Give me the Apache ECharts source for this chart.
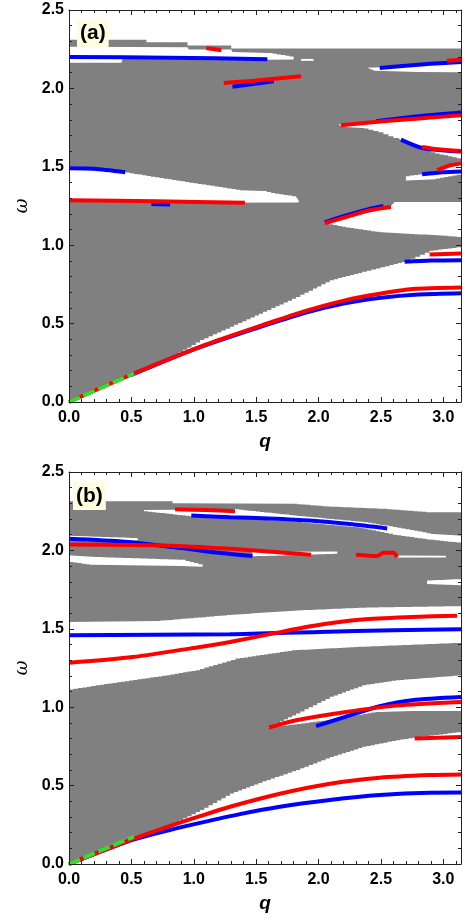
<!DOCTYPE html>
<html>
<head>
<meta charset="utf-8">
<script src="https://cdn.jsdelivr.net/npm/echarts@6/dist/echarts.min.js"></script>
<style>
  html, body { margin: 0; padding: 0; background: #fff; }
  #chart { width: 466px; height: 923px; }
</style>
</head>
<body>
<div id="chart"></div>
<script>
// Axis ticks
const xTicks = [0, 0.5, 1.0, 1.5, 2.0, 2.5, 3.0];
const xMinorTicks = [0.1, 0.2, 0.3, 0.4, 0.6, 0.7, 0.8, 0.9, 1.1, 1.2, 1.3, 1.4, 1.6, 1.7, 1.8, 1.9,
  2.1, 2.2, 2.3, 2.4, 2.6, 2.7, 2.8, 2.9, 3.1];
const Q_MAX = 3.1416;

// ---------- panel (a): continuum (gray) and gaps (white) ----------
const aGrayLow = [[0, 0], [0.5, 0.185], [0.78, 0.27], [1.05, 0.395], [1.29, 0.48], [1.555, 0.575], [1.82, 0.67],
  [2.09, 0.777], [2.35, 0.83], [2.57, 0.873], [2.7, 0.9], [2.89, 0.965], [Q_MAX, 0.99]];
const aGrayTop = [[0, 2.31], [0.62, 2.31], [0.62, 2.295], [0.95, 2.295], [0.95, 2.274], [1.3, 2.274],
  [1.3, 2.255], [Q_MAX, 2.255]];

const aGapTop = [[0, 2.265], [0.95, 2.262], [0.96, 2.248], [1.3, 2.248], [1.31, 2.232], [1.6, 2.225], [1.8, 2.2],
  [1.8, 2.184], [1.6, 2.183], [0.43, 2.188], [0.42, 2.163], [0, 2.163]];
const aGapDot = [[1.86, 2.188], [1.96, 2.188], [1.96, 2.176], [1.86, 2.176]];
const aGapTopRight = [[2.39, 2.132], [2.5, 2.135], [2.8, 2.15], [Q_MAX, 2.165], [Q_MAX, 2.103], [2.8, 2.104], [2.45, 2.112]];
const aGapMidLeft = [[0, 1.49], [0.45, 1.463], [0.93, 1.403], [1.37, 1.35], [1.55, 1.346], [1.62, 1.333],
  [1.82, 1.308], [1.84, 1.287], [1.84, 1.272], [1.0, 1.27], [0, 1.283]];
const aGapMidRight = [[2.155, 1.77], [2.46, 1.795], [2.8, 1.828], [Q_MAX, 1.855], [Q_MAX, 1.555], [2.97, 1.585],
  [2.83, 1.615], [2.66, 1.668], [2.64, 1.683], [2.52, 1.72], [2.4, 1.745], [2.2, 1.755]];
const aGapSliver = [[2.70, 1.44], [2.83, 1.455], [2.95, 1.478], [Q_MAX, 1.528], [Q_MAX, 1.45], [2.94, 1.42], [2.70, 1.413]];
const aGapLowRight = [[2.05, 1.145], [2.22, 1.185], [2.41, 1.228], [2.58, 1.25], [2.61, 1.275], [Q_MAX, 1.275],
  [Q_MAX, 1.053], [2.97, 1.064], [2.7, 1.074], [2.49, 1.085], [2.22, 1.117]];

// ---------- panel (a): modes ----------
const aRedAcoustic = [[0, 0], [0.515, 0.18], [1.05, 0.352], [1.29, 0.42], [1.55, 0.49], [1.87, 0.575], [2.22, 0.65],
  [2.49, 0.69], [2.75, 0.72], [Q_MAX, 0.73]];
const aBlueAcoustic = [[0.5, 0.172], [1.0, 0.335], [1.5, 0.47], [1.9, 0.57], [2.2, 0.628], [2.5, 0.665], [2.8, 0.686], [Q_MAX, 0.694]];
const aGreen = [[0, 0], [0.52, 0.182]];
const aBlueTop = [[0, 2.2], [0.8, 2.196], [1.59, 2.186]];
const aRedTopShort = [[1.1, 2.258], [1.22, 2.243]];
const aRed204 = [[1.24, 2.035], [1.5, 2.05], [1.86, 2.078]];
const aBlue201 = [[1.31, 2.01], [1.64, 2.045]];
const aBlueTopRight = [[2.49, 2.13], [2.7, 2.145], [2.9, 2.157], [Q_MAX, 2.168]];
const aRedTopRight = [[3.03, 2.176], [Q_MAX, 2.182]];
const aBlue149 = [[0, 1.49], [0.2, 1.487], [0.45, 1.465]];
const aRed128 = [[0, 1.287], [0.7, 1.28], [1.41, 1.27]];
const aBlue126 = [[0.66, 1.262], [0.81, 1.26]];
const aBlue184 = [[2.46, 1.79], [2.8, 1.822], [Q_MAX, 1.846]];
const aRed182 = [[2.18, 1.765], [2.45, 1.785], [2.78, 1.807], [Q_MAX, 1.828]];
const aBlue166 = [[2.66, 1.673], [2.83, 1.62], [Q_MAX, 1.597]];
const aRed162 = [[2.83, 1.626], [2.95, 1.612], [Q_MAX, 1.6]];
const aRed150 = [[2.95, 1.478], [3.05, 1.508], [Q_MAX, 1.522]];
const aBlue146 = [[2.83, 1.452], [3.0, 1.465], [Q_MAX, 1.47]];
const aBlue120 = [[2.05, 1.145], [2.2, 1.185], [2.4, 1.23], [2.52, 1.25]];
const aRed120 = [[2.05, 1.14], [2.22, 1.18], [2.41, 1.223], [2.58, 1.244]];
const aBlue090 = [[2.69, 0.894], [2.9, 0.902], [Q_MAX, 0.904]];
const aRed094 = [[2.89, 0.94], [Q_MAX, 0.947]];

// ---------- panel (b): continuum (gray) and gaps (white) ----------
const bGrayUpLow = [[0, 1.543], [0.7, 1.55], [1.3, 1.59], [1.82, 1.617], [2.35, 1.635], [Q_MAX, 1.645]];
const bGrayUpTop = [[0, 2.314], [0.83, 2.314], [0.83, 2.3], [1.83, 2.297], [2.1, 2.28], [2.55, 2.265],
  [2.9, 2.244], [Q_MAX, 2.244]];
const bGrayLowLow = [[0, 0], [0.515, 0.165], [0.78, 0.24], [1.05, 0.344], [1.29, 0.45], [1.55, 0.527], [1.82, 0.6],
  [2.09, 0.683], [2.35, 0.747], [2.62, 0.79], [2.89, 0.82], [Q_MAX, 0.843]];
const bGrayLowTop = [[0, 1.108], [0.25, 1.14], [0.515, 1.17], [0.78, 1.2], [1.05, 1.236], [1.37, 1.31],
  [1.82, 1.363], [2.35, 1.385], [2.67, 1.395], [Q_MAX, 1.41]];

const bGapS1 = [[0.6, 2.258], [1.33, 2.262], [1.83, 2.22], [2.36, 2.18], [2.63, 2.145], [2.9, 2.105], [Q_MAX, 2.093],
  [Q_MAX, 2.05], [2.9, 2.07], [2.63, 2.1], [2.36, 2.145], [1.83, 2.183], [1.3, 2.208], [1.0, 2.218], [0.6, 2.252]];
const bGapBlueTop = [[0, 2.093], [0.55, 2.078], [0.55, 2.064], [0, 2.08]];
const bGapS2 = [[0, 1.968], [0.2, 1.958], [0.9, 1.94], [1.07, 1.905], [1.07, 1.895], [0.9, 1.9], [0.2, 1.908], [0, 1.93]];
const bGapS3 = [[1.47, 1.99], [2.15, 1.993], [2.15, 1.978], [1.47, 1.962]];
const bGapS3b = [[2.62, 1.968], [3.02, 1.966], [3.02, 1.954], [2.62, 1.955]];
const bGapS4 = [[2.87, 1.808], [Q_MAX, 1.818], [Q_MAX, 1.778], [2.87, 1.786]];
const bGapWedge = [[1.595, 0.874], [1.82, 0.96], [2.09, 1.066], [2.35, 1.14], [2.62, 1.172], [Q_MAX, 1.204],
  [Q_MAX, 0.976], [2.75, 0.976], [2.49, 0.97], [2.09, 0.917], [1.595, 0.866]];

// ---------- panel (b): modes ----------
const bRedAcoustic = [[0, 0], [0.515, 0.16], [0.8, 0.24], [1.05, 0.305], [1.29, 0.365], [1.69, 0.448], [2.09, 0.512],
  [2.49, 0.55], [2.89, 0.567], [Q_MAX, 0.571]];
const bBlueAcoustic = [[0, 0], [0.515, 0.155], [0.8, 0.215], [1.05, 0.262], [1.37, 0.318], [1.69, 0.365], [2.09, 0.408],
  [2.49, 0.44], [2.89, 0.455], [Q_MAX, 0.456]];
const bGreen = [[0, 0], [0.52, 0.175]];
const bRedTop = [[0.85, 2.262], [1.1, 2.257], [1.33, 2.25]];
const bBlueTop = [[0.98, 2.222], [1.29, 2.212], [1.6, 2.203], [1.93, 2.19], [2.25, 2.168], [2.55, 2.14]];
const bBlue2 = [[0, 2.074], [0.45, 2.055], [0.9, 2.015], [1.2, 1.985], [1.47, 1.964]];
const bRed2 = [[0, 2.038], [0.77, 2.032], [1.3, 2.01], [1.94, 1.973]];
const bRed3 = [[2.3, 1.973], [2.47, 1.965], [2.52, 1.985], [2.6, 1.985], [2.63, 1.957]];
const bBlueFlat = [[0, 1.459], [1.29, 1.465], [2.0, 1.48], [2.6, 1.49], [Q_MAX, 1.497]];
const bRedRise = [[0, 1.283], [0.51, 1.32], [1.05, 1.384], [1.29, 1.416], [1.63, 1.469], [1.95, 1.518],
  [2.35, 1.559], [2.75, 1.575], [3.11, 1.584]];
const bRedWedge = [[1.6, 0.87], [1.82, 0.917], [2.22, 0.97], [2.62, 1.01], [Q_MAX, 1.033]];
const bBlueWedge = [[1.98, 0.879], [2.22, 0.94], [2.49, 1.006], [2.75, 1.045], [Q_MAX, 1.065]];
const bRed080 = [[2.77, 0.80], [Q_MAX, 0.81]];

// ---------- styling ----------
const FONT = 'Liberation Sans, Arial, sans-serif';
const GRAY = '#808080';
const RED = '#ff0000';
const BLUE = '#0000ff';
const GREEN = '#2fe02f';
const FRAME = '#222';
const STAIR = 4; // px, mimics the rasterised edges of the continuum

function band(low, top) {
  return low.concat(top.slice().reverse());
}

// turn sloped polygon edges into small pixel steps
function stairs(pts) {
  const out = [];
  for (let i = 0; i < pts.length; i++) {
    const a = pts[i], b = pts[(i + 1) % pts.length];
    out.push(a);
    const dx = b[0] - a[0], dy = b[1] - a[1];
    const n = Math.floor(Math.abs(dx) / STAIR);
    if (n < 2 || Math.abs(dy) < 1.5) continue;
    for (let k = 1; k < n; k++) {
      const x = a[0] + dx * k / n;
      out.push([x, a[1] + dy * (k - 1) / n], [x, a[1] + dy * k / n]);
    }
    out.push([b[0], a[1] + dy * (n - 1) / n]);
  }
  return out;
}

function areaSeries(gi, shapes, color, z) {
  return {
    type: 'custom',
    xAxisIndex: gi * 4,
    yAxisIndex: gi * 2,
    z: z,
    silent: true,
    clip: true,
    animation: false,
    data: shapes.map((s, i) => [s[0][0], s[0][1], i]),
    renderItem: function (params, api) {
      const pts = stairs(shapes[params.dataIndex].map(p => api.coord(p)));
      return { type: 'polygon', shape: { points: pts }, style: { fill: color } };
    }
  };
}

function curve(gi, pts, color, z, dash) {
  return {
    type: 'line',
    xAxisIndex: gi * 4,
    yAxisIndex: gi * 2,
    data: pts,
    showSymbol: false,
    symbol: 'none',
    smooth: 0.25,
    silent: true,
    animation: false,
    z: z,
    lineStyle: { color: color, width: 4, type: dash || 'solid' }
  };
}

function xAxes(gi) {
  const base = { type: 'value', gridIndex: gi, min: 0, max: Q_MAX, z: 10, splitLine: { show: false } };
  const major = {
    axisTick: { inside: true, length: 5, customValues: xTicks, lineStyle: { color: FRAME } },
    axisLine: { show: true, onZero: false, lineStyle: { color: FRAME, width: 1 } }
  };
  const minor = {
    axisTick: { inside: true, length: 3, customValues: xMinorTicks, lineStyle: { color: FRAME } },
    axisLine: { show: false, onZero: false },
    axisLabel: { show: false }
  };
  return [
    Object.assign({}, base, major, {
      position: 'bottom',
      axisLabel: {
        customValues: xTicks, formatter: v => v.toFixed(1), margin: 8,
        fontSize: 16, fontWeight: 'bold', color: '#000', fontFamily: FONT
      },
      name: 'q', nameLocation: 'middle', nameGap: 30,
      nameTextStyle: { fontSize: 19, fontWeight: 'bold', fontStyle: 'italic', color: '#000', fontFamily: FONT }
    }),
    Object.assign({}, base, minor, { position: 'bottom' }),
    Object.assign({}, base, major, { position: 'top', axisLabel: { show: false } }),
    Object.assign({}, base, minor, { position: 'top' })
  ];
}

function yAxes(gi) {
  const base = {
    type: 'value', gridIndex: gi, min: 0, max: 2.5, interval: 0.5, z: 10,
    splitLine: { show: false },
    axisLine: { show: true, onZero: false, lineStyle: { color: FRAME, width: 1 } },
    axisTick: { inside: true, length: 5, lineStyle: { color: FRAME } },
    minorTick: { show: true, splitNumber: 5, length: 3, lineStyle: { color: FRAME } }
  };
  return [
    Object.assign({}, base, {
      position: 'left',
      axisLabel: {
        formatter: v => v.toFixed(1), margin: 5,
        fontSize: 16, fontWeight: 'bold', color: '#000', fontFamily: FONT
      },
      name: 'ω', nameLocation: 'middle', nameGap: 37, nameRotate: 90,
      nameTextStyle: { fontSize: 18, fontStyle: 'italic', color: '#000', fontFamily: 'DejaVu Serif, serif' }
    }),
    Object.assign({}, base, { position: 'right', axisLabel: { show: false } })
  ];
}

function panelSeries(gi, grays, gaps, blues, reds, green) {
  const out = [areaSeries(gi, grays, GRAY, 1), areaSeries(gi, gaps, '#ffffff', 2)];
  blues.forEach(c => out.push(curve(gi, c, BLUE, 3)));
  reds.forEach(c => out.push(curve(gi, c, RED, 4)));
  out.push(curve(gi, green, GREEN, 5, [12, 4]));
  return out;
}

const series = [].concat(
  panelSeries(0,
    [band(aGrayLow, aGrayTop)],
    [aGapTop, aGapDot, aGapTopRight, aGapMidLeft, aGapMidRight, aGapSliver, aGapLowRight],
    [aBlueAcoustic, aBlueTop, aBlue201, aBlueTopRight, aBlue149, aBlue126, aBlue184, aBlue166, aBlue146, aBlue120, aBlue090],
    [aRedAcoustic, aRedTopShort, aRed204, aRedTopRight, aRed128, aRed182, aRed162, aRed150, aRed120, aRed094],
    aGreen),
  panelSeries(1,
    [band(bGrayUpLow, bGrayUpTop), band(bGrayLowLow, bGrayLowTop)],
    [bGapS1, bGapBlueTop, bGapS2, bGapS3, bGapS3b, bGapS4, bGapWedge],
    [bBlueAcoustic, bBlueTop, bBlue2, bBlueFlat, bBlueWedge],
    [bRedAcoustic, bRedTop, bRed2, bRed3, bRedRise, bRedWedge, bRed080],
    bGreen)
);

const chart = echarts.init(document.getElementById('chart'), null, { renderer: 'canvas' });
chart.setOption({
  backgroundColor: '#fff',
  animation: false,
  title: [
    { text: '(a)', left: 77, top: 19, padding: [1, 3], backgroundColor: '#fffde0',
      textStyle: { fontSize: 21, fontWeight: 'bold', color: '#000', fontFamily: FONT, lineHeight: 26 } },
    { text: '(b)', left: 73, top: 482, padding: [1, 3], backgroundColor: '#fffde0',
      textStyle: { fontSize: 21, fontWeight: 'bold', color: '#000', fontFamily: FONT, lineHeight: 26 } }
  ],
  grid: [
    { left: 69, top: 10, width: 392, height: 392 },
    { left: 69, top: 472, width: 392, height: 392 }
  ],
  xAxis: xAxes(0).concat(xAxes(1)),
  yAxis: yAxes(0).concat(yAxes(1)),
  series: series
});
</script>
</body>
</html>
